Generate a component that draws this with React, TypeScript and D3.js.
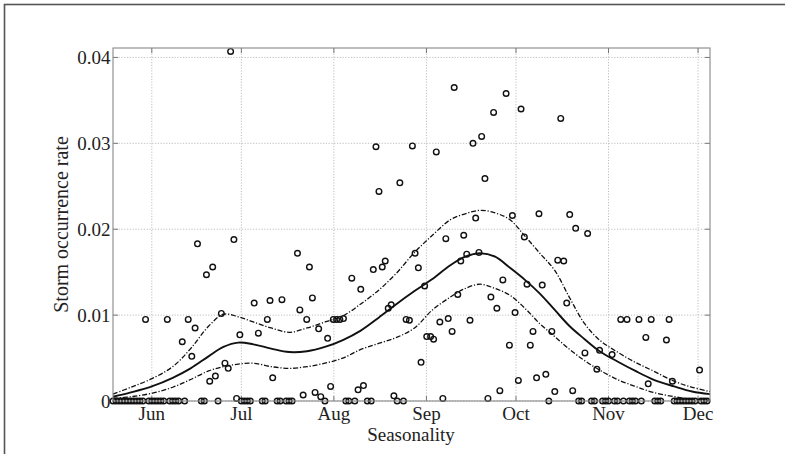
import React from "react";
import * as d3 from "d3";

// ---- data (day of year, storm occurrence rate) ----
const monthLabels = ["Jun", "Jul", "Aug", "Sep", "Oct", "Nov", "Dec"];
const monthDays = [152, 182, 213, 244, 274, 305, 335];
const yTicks = [0, 0.01, 0.02, 0.03, 0.04];
const yTickLabels = ["0", "0.01", "0.02", "0.03", "0.04"];

const obsDays = [
  139, 140, 141, 142, 143, 144, 145, 146, 147, 148, 149, 151, 152, 153, 154, 155, 156,
  158, 159, 160, 161, 163, 168.6, 169.6, 174.2, 182, 183, 184, 185, 189, 190, 194, 195,
  197, 198, 199, 210, 217, 218, 220, 224.2, 225.5, 234.2, 236.3, 295, 296, 299.3, 300.3,
  303, 304, 305, 307, 308, 310, 312, 313, 314, 316, 320.5, 321.5, 322.5, 327, 328, 329,
  330, 331, 332, 333, 334, 336, 337, 338,
  149.9, 157.2, 162.2, 164.2, 165.4, 166.5, 167.3, 170.3, 171.4, 172.4, 173.3, 175.3,
  176.5, 177.6, 178.4, 179.5, 180.4, 181.5, 186.3, 187.7, 190.7, 191.6, 192.5, 195.6,
  200.8, 201.6, 202.7, 203.9, 204.8, 205.8, 206.7, 207.9, 208.6, 210.9, 211.9, 212.8,
  213.9, 215.0, 216.2, 219.0, 221.1, 222.0, 222.9, 226.2, 227.1, 228.1, 229.2, 230.2,
  231.2, 232.2, 233.1, 235.1, 237.2, 238.3, 239.3, 240.2, 241.3, 242.2, 243.4, 244.1,
  245.4, 246.4, 247.3, 248.5, 249.5, 250.5, 251.3, 252.6, 253.3, 254.5, 255.5, 256.5,
  257.5, 258.6, 259.6, 260.5, 261.6, 262.5, 263.6, 264.6, 265.6, 266.5, 267.6, 268.6,
  269.6, 270.7, 271.8, 272.8, 273.7, 274.8, 275.7, 276.8, 277.7, 278.8, 279.7, 280.9,
  281.7, 282.8, 284.0, 285.0, 286.0, 287.0, 288.0, 289.0, 290.0, 291.0, 292.0, 293.0,
  294.0, 297.1, 298.0, 301.1, 302.0, 306.2, 309.1, 311.2, 315.2, 317.5, 318.3, 319.3,
  324.4, 325.3, 326.4, 335.5,
];
const obsRates = [
  0, 0, 0, 0, 0, 0, 0, 0, 0, 0, 0, 0, 0, 0, 0, 0, 0,
  0, 0, 0, 0, 0, 0, 0, 0, 0, 0, 0, 0, 0, 0, 0, 0,
  0, 0, 0, 0, 0, 0, 0, 0, 0, 0, 0, 0, 0, 0, 0,
  0, 0, 0, 0, 0, 0, 0, 0, 0, 0, 0, 0, 0, 0, 0, 0,
  0, 0, 0, 0, 0, 0, 0, 0,
  0.0095, 0.0095, 0.0069, 0.0095, 0.0052, 0.0085, 0.0183, 0.0147, 0.0023, 0.0156, 0.0029, 0.0102,
  0.0044, 0.0038, 0.0407, 0.0188, 0.0003, 0.0077, 0.0114, 0.0079, 0.0095, 0.0117, 0.0027, 0.0118,
  0.0172, 0.0106, 0.0007, 0.0095, 0.0156, 0.012, 0.001, 0.0084, 0.0005, 0.0073, 0.0017, 0.0095,
  0.0095, 0.0095, 0.0096, 0.0143, 0.0013, 0.013, 0.0018, 0.0153, 0.0296, 0.0244, 0.0156, 0.0163,
  0.0108, 0.0112, 0.0006, 0.0254, 0.0095, 0.0094, 0.0297, 0.0172, 0.0155, 0.0045, 0.0134, 0.0075,
  0.0075, 0.0072, 0.029, 0.0092, 0.0003, 0.0189, 0.0096, 0.0081, 0.0365, 0.0124, 0.0163, 0.0193,
  0.0171, 0.0094, 0.03, 0.0213, 0.0173, 0.0308, 0.0259, 0.0003, 0.0121, 0.0336, 0.0108, 0.0012,
  0.0141, 0.0358, 0.0065, 0.0216, 0.0103, 0.0024, 0.034, 0.0191, 0.0136, 0.0065, 0.0081, 0.0027,
  0.0218, 0.0135, 0.0031, 0, 0.0081, 0.0011, 0.0164, 0.0329, 0.0163, 0.0114, 0.0217, 0.0012,
  0.0201, 0.0056, 0.0195, 0.0037, 0.0059, 0.0054, 0.0095, 0.0095, 0.0095, 0.0074, 0.002, 0.0095,
  0.0071, 0.0095, 0.0023, 0.0036,
];

const curveDays = [
  139, 145, 152, 159, 165, 171, 176, 181, 186, 192, 198, 204, 210, 216, 222, 228, 234, 240,
  246, 252, 257, 262, 267, 272, 277, 282, 287, 292, 297, 302, 308, 314, 320, 327, 333, 339,
];
const meanRate = [
  0.0005, 0.001, 0.0017, 0.0027, 0.0038, 0.0052, 0.0063, 0.0068, 0.0066, 0.0061, 0.0057, 0.0058,
  0.0063, 0.0071, 0.0082, 0.0097, 0.0113, 0.0128, 0.0142, 0.0158, 0.0168, 0.0172, 0.0168, 0.0155,
  0.0141, 0.0125, 0.0106, 0.0087, 0.0072, 0.0058, 0.0046, 0.0035, 0.0025, 0.0017, 0.0011, 0.0008,
];
const upperRate = [
  0.0008, 0.0016, 0.0026, 0.004, 0.0061, 0.0087, 0.0101, 0.0098, 0.0092, 0.0085, 0.008, 0.0085,
  0.0092, 0.0099, 0.0113, 0.0129, 0.0149, 0.0173, 0.0193, 0.0211, 0.0218, 0.0222, 0.0219, 0.0211,
  0.0192, 0.0172, 0.0152, 0.012, 0.009, 0.0071, 0.0057, 0.0045, 0.0035, 0.0023, 0.0016, 0.0011,
];
const lowerRate = [
  0.0003, 0.0005, 0.0009, 0.0016, 0.0025, 0.0035, 0.004, 0.0043, 0.0044, 0.004, 0.0038, 0.004,
  0.0044, 0.005, 0.006, 0.0067, 0.0074, 0.0085, 0.0106, 0.0121, 0.0131, 0.0136, 0.0131, 0.0123,
  0.0108, 0.009, 0.0075, 0.006, 0.0047, 0.0036, 0.0025, 0.0017, 0.001, 0.0005, 0.0002, 0.0001,
];

const W = 785;
const H = 454;
const M = { left: 113, right: 710, top: 48, bottom: 401 };
const FONT = "'Liberation Serif', 'DejaVu Serif', serif";

export default function App() {
  const x = d3.scaleLinear().domain([139, 339]).range([M.left, M.right]);
  const y = d3.scaleLinear().domain([0, 0.0411]).range([M.bottom, M.top]);

  const line = d3
    .line<number>()
    .x((_, i) => x(curveDays[i]))
    .y((v) => y(v))
    .curve(d3.curveCatmullRom.alpha(0.5));

  const pts = obsDays.map((d, i) => ({ d, v: obsRates[i] }));

  return (
    <svg
      width={W}
      height={H}
      style={{ position: "absolute", left: 0, top: 0, background: "#fff" }}
      fontFamily={FONT}
    >
      <rect x={0} y={0} width={W} height={H} fill="#fff" />
      {/* outer frame */}
      <rect x={4.5} y={4.5} width={W + 10} height={H + 10} fill="none" stroke="#555" strokeWidth={1.6} />

      {/* grid */}
      {monthDays.map((d) => (
        <line
          key={"gx" + d}
          x1={x(d)}
          x2={x(d)}
          y1={M.top}
          y2={M.bottom}
          stroke="#b8b8b8"
          strokeWidth={0.9}
          strokeDasharray="1.2,1.6"
        />
      ))}
      {yTicks.map((t) => (
        <line
          key={"gy" + t}
          x1={M.left}
          x2={M.right}
          y1={y(t)}
          y2={y(t)}
          stroke="#b8b8b8"
          strokeWidth={0.9}
          strokeDasharray="1.2,1.6"
        />
      ))}

      {/* ticks */}
      {monthDays.map((d) => (
        <g key={"tx" + d}>
          <line x1={x(d)} x2={x(d)} y1={M.bottom} y2={M.bottom - 5} stroke="#777" />
          <line x1={x(d)} x2={x(d)} y1={M.top} y2={M.top + 5} stroke="#777" />
        </g>
      ))}
      {yTicks.map((t) => (
        <g key={"ty" + t}>
          <line x1={M.left} x2={M.left + 5} y1={y(t)} y2={y(t)} stroke="#777" />
          <line x1={M.right} x2={M.right - 5} y1={y(t)} y2={y(t)} stroke="#777" />
        </g>
      ))}

      {/* curves */}
      <path d={line(upperRate) || ""} fill="none" stroke="#111" strokeWidth={1.3} strokeDasharray="5,1.8,1.2,1.8" />
      <path d={line(lowerRate) || ""} fill="none" stroke="#111" strokeWidth={1.3} strokeDasharray="5,1.8,1.2,1.8" />
      <path d={line(meanRate) || ""} fill="none" stroke="#111" strokeWidth={1.9} />

      {/* observations */}
      {pts.map((p, i) => (
        <circle key={i} cx={x(p.d)} cy={y(p.v)} r={2.8} fill="none" stroke="#111" strokeWidth={1.4} />
      ))}

      {/* plot box */}
      <rect
        x={M.left}
        y={M.top}
        width={M.right - M.left}
        height={M.bottom - M.top}
        fill="none"
        stroke="#888"
        strokeWidth={1.1}
      />

      {/* tick labels */}
      {yTicks.map((t, i) => (
        <text key={"yl" + t} x={110.5} y={y(t) + 6.5} textAnchor="end" fontSize={19} fill="#222">
          {yTickLabels[i]}
        </text>
      ))}
      {monthDays.map((d, i) => (
        <text key={"xl" + d} x={x(d)} y={420} textAnchor="middle" fontSize={19} fill="#222">
          {monthLabels[i]}
        </text>
      ))}

      {/* axis titles */}
      <text x={411} y={441} textAnchor="middle" fontSize={19} fill="#222">
        Seasonality
      </text>
      <text
        transform={`translate(68, ${(M.top + M.bottom) / 2}) rotate(-90)`}
        textAnchor="middle"
        fontSize={20}
        fill="#222"
      >
        Storm occurrence rate
      </text>
    </svg>
  );
}
